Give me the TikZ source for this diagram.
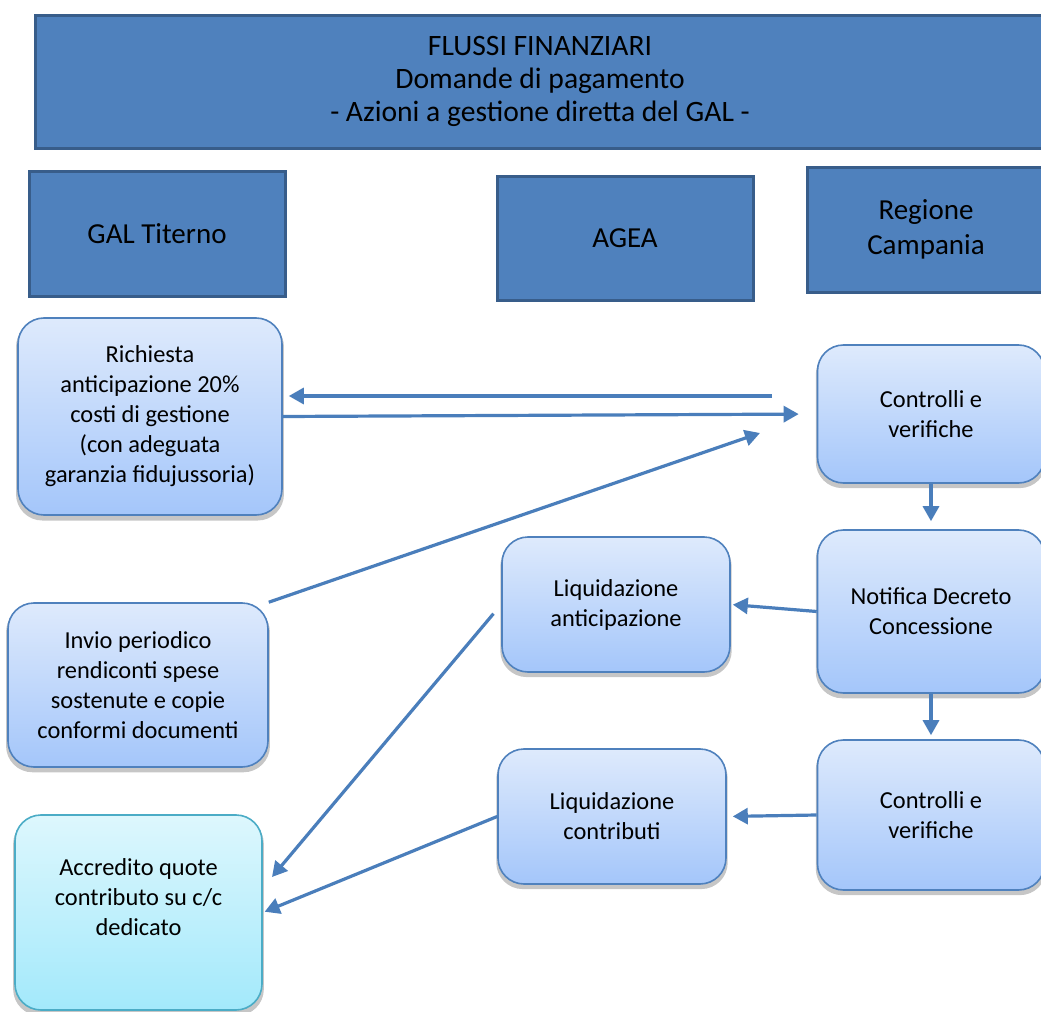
\documentclass[tikz,border=0pt]{standalone}
\usepackage{fontspec}
\setmainfont{Carlito}
\usetikzlibrary{arrows.meta, shadows}
\definecolor{HeadFill}{HTML}{4F81BD}
\definecolor{HeadLine}{HTML}{385D8A}
\definecolor{BoxLine}{HTML}{4F81BD}
\definecolor{BoxTop}{HTML}{DEEAFC}
\definecolor{BoxBot}{HTML}{A4C6FA}
\definecolor{CyanLine}{HTML}{4BACC6}
\definecolor{CyanTop}{HTML}{DDF7FD}
\definecolor{CyanBot}{HTML}{A3E9FB}
\definecolor{FlowBlue}{HTML}{4A7EBB}
\tikzset{
  hbox/.style={draw=HeadLine, line width=1.5pt, fill=HeadFill, align=center,
    inner sep=0pt, font=\fontsize{14.5}{17.5}\selectfont},
  rbox/.style={draw=BoxLine, line width=0.8pt, rounded corners=13pt, align=center,
    inner sep=0pt, top color=BoxTop, bottom color=BoxBot,
    font=\fontsize{12.2}{15}\selectfont,
    drop shadow={shadow xshift=0pt, shadow yshift=-2pt, shadow scale=1.015,
      fill=gray, opacity=.45}},
  cbox/.style={rbox, draw=CyanLine, top color=CyanTop, bottom color=CyanBot},
  flow/.style={-{Triangle[length=7.5pt,width=8pt]}, line width=1.6pt, draw=FlowBlue},
}
\begin{document}
\begin{tikzpicture}[x=0.5pt, y=-0.5pt]
    \clip (0,0) rectangle (1041,1012);
    % headers
    \node[hbox, minimum width=505pt, minimum height=66.5pt,
      font=\fontsize{14.8}{16.5}\selectfont] (title) at (540,81.5)
      {FLUSSI FINANZIARI\\Domande di pagamento\\- Azioni a gestione diretta del GAL -};
    \node[hbox, minimum width=128pt, minimum height=62.5pt] (gal) at (157,233.5) {GAL Titerno};
    \node[hbox, minimum width=128pt, minimum height=62pt] (agea) at (625,238) {AGEA};
    \node[hbox, minimum width=119pt, minimum height=62.5pt] (reg) at (926,229.5) {Regione\\Campania};
    % boxes
    \node[rbox, minimum width=132pt, minimum height=98.5pt] (rich) at (150,416.5)
      {Richiesta\\anticipazione 20\%\\costi di gestione\\(con adeguata\\garanzia fidujussoria)};
    \node[rbox, minimum width=130pt, minimum height=82pt] (invio) at (138,685)
      {Invio periodico\\rendiconti spese\\sostenute e copie\\conformi documenti};
    \node[cbox, minimum width=123.5pt, minimum height=97.5pt] (accr) at (138.5,912.5)
      {Accredito quote\\contributo su c/c\\dedicato\\\mbox{}};
    \node[rbox, minimum width=114pt, minimum height=67.5pt] (liqa) at (616,604.5)
      {Liquidazione\\anticipazione};
    \node[rbox, minimum width=114pt, minimum height=67.5pt] (liqc) at (612,816.5)
      {Liquidazione\\contributi};
    \node[rbox, minimum width=113.5pt, minimum height=69pt] (ctrla) at (931,414)
      {Controlli e\\verifiche};
    \node[rbox, minimum width=113.5pt, minimum height=81.5pt] (notif) at (931,611.5)
      {Notifica Decreto\\Concessione};
    \node[rbox, minimum width=113.5pt, minimum height=75pt] (ctrlb) at (931,815)
      {Controlli e\\verifiche};
    % free ends
    \coordinate (retA) at (772,396);
    \coordinate (invA) at (760,433);
    \coordinate (accA) at (272,877);
    % connectors
    \draw[flow, shorten >=3pt] (retA) -- (retA -| rich.east);
    \draw[flow, shorten >=9pt] (rich.east) -- (ctrla.west);
    \draw[flow] (invio.north east) -- (invA);
    \draw[flow, shorten >=4pt] (ctrla.south) -- (notif.north);
    \draw[flow, shorten >=1pt] (notif.west) -- (liqa.east);
    \draw[flow, shorten >=2pt] (notif.south) -- (ctrlb.north);
    \draw[flow, shorten >=3pt] (ctrlb.west) -- (liqc.east);
    \draw[flow, shorten <=6pt] (liqa.west) -- (accA);
    \draw[flow, shorten >=1pt] (liqc.west) -- (accr.east);
\end{tikzpicture}
\end{document}
